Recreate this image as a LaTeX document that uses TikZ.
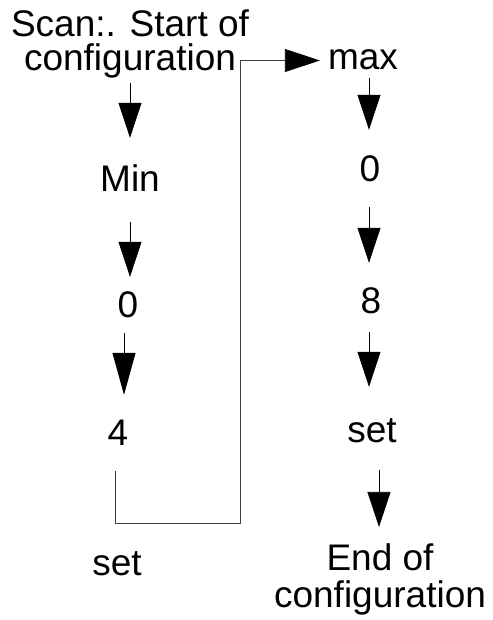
\documentclass[tikz,border=0pt]{standalone}
\usepackage{fontspec}
\setmainfont{Liberation Sans}
\usetikzlibrary{arrows.meta}
\tikzset{
  lbl/.style={inner sep=0pt, anchor=base, font=\fontsize{37}{35}\selectfont,
    text height=27pt, text depth=8pt},
  lbltwo/.style={inner sep=0pt, anchor=base, align=center,
    font=\fontsize{37}{#1}\selectfont},
  lbltwo/.default=35,
  flow/.style={line width=0.7pt, -{Triangle[length=#1,width=23pt]}},
  flow/.default=35pt,
  link/.style={line width=0.8pt, black!75}
}

\begin{document}
\begin{tikzpicture}[x=1pt,y=-1pt]
\useasboundingbox (0,0) rectangle (492,620);
% left column
\node[lbltwo=34] (start) at (130,71) {Scan:. Start of\\configuration};
\node[lbl] (min) at (130,192) {Min};
\node[lbl] (zeroa) at (128,317) {0};
\node[lbl] (four) at (118,445) {4};
\node[lbl] (setl) at (117,575) {set};
% right column
\node[lbl] (max) at (363,70) {max};
\node[lbl] (zerob) at (370,182) {0};
\node[lbl] (eight) at (371,313) {8};
\node[lbl] (setr) at (372,442) {set};
\node[lbltwo=37] (finish) at (380,607) {End of\\configuration};
\coordinate (bend) at (240,523);

\draw[flow, shorten <=4pt, shorten >=27pt] (start.south) -- (min.north);
\draw[flow, shorten <=22pt, shorten >=13pt] (min.south) -- ([xshift=2pt]zeroa.north);
\draw[flow=42pt, shorten <=8pt, shorten >=23pt] ([xshift=-4pt]zeroa.south) -- ([xshift=6pt]four.north);
\draw[link, shorten <=18pt, shorten >=8pt, -{Triangle[length=35pt,width=23pt,color=black]}]
  ([xshift=-3pt]four.south) |- (bend) |- (max.west);

\draw[flow, shorten >=25pt] ([xshift=6pt]max.south) -- ([xshift=-1pt]zerob.north);
\draw[flow, shorten <=17pt, shorten >=23pt] ([xshift=-1pt]zerob.south) -- ([xshift=-2pt]eight.north);
\draw[flow, shorten <=11pt, shorten >=28pt] ([xshift=-2pt]eight.south) -- ([xshift=-3pt]setr.north);
\draw[flow, shorten <=20pt, shorten >=16pt] ([xshift=7pt]setr.south) -- ([xshift=-1pt]finish.north);
\end{tikzpicture}
\end{document}
